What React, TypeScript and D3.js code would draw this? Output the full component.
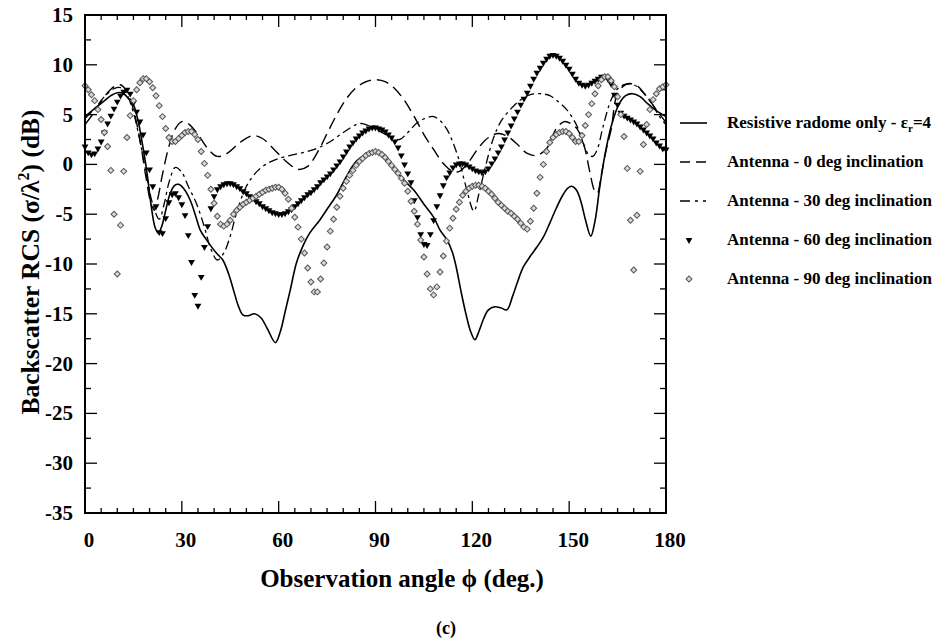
import React from 'react';
import * as d3 from 'd3';

// ---------- data ----------
const X_TICK_LABELS = [0, 30, 60, 90, 120, 150, 180];
const Y_TICK_LABELS = [15, 10, 5, 0, -5, -10, -15, -20, -25, -30, -35];

// Resistive radome only (solid line) : [angle, dB]
const RADOME_ANGLES = [0, 2.6, 5.7, 8, 10, 12, 13.5, 15, 16.5, 17.6, 19.1, 20.7, 21.7, 22.7, 23.8, 24.8, 26.4, 27.8, 29, 30.5, 32.6, 34.5, 35.7, 37.7, 40.7, 42.7, 44.5, 46, 47.5, 48.9, 50.5, 52.5, 54.5, 56.5, 59, 60.5, 62, 63.6, 65.5, 67.5, 69.6, 72.7, 75, 77.9, 81, 84, 87, 90, 92.6, 95, 98, 101.9, 105, 108, 110, 112.2, 113.8, 115, 116.4, 118, 119.5, 120.8, 122, 123.5, 125, 127, 128.8, 130.7, 132.5, 134, 135.8, 138, 140, 142, 144, 146, 148, 149.5, 150.8, 152.3, 153.7, 155, 156.7, 158, 159.5, 161, 163, 165.5, 167.5, 169.6, 172, 174.3, 177, 180];
const RADOME_VALUES = [4.8, 5.5, 6.3, 6.9, 7.2, 7.1, 6.6, 6.0, 4.3, 2.4, -0.6, -4.6, -6.3, -6.9, -6.2, -4.9, -2.9, -2.1, -2.0, -2.4, -3.6, -5.4, -6.6, -7.6, -8.9, -9.6, -11.0, -12.6, -14.2, -15.1, -15.2, -15.0, -15.4, -16.5, -17.9, -16.8, -14.8, -12.6, -9.9, -8.2, -6.9, -5.6, -4.5, -3.1, -1.2, 0.3, 1.0, 1.3, 0.8, 0.0, -1.3, -2.6, -4.0, -5.3, -6.6, -7.6, -8.8, -10.3, -12.6, -15.0, -16.8, -17.6, -16.8, -15.5, -14.6, -14.3, -14.4, -14.6, -13.2, -11.8, -10.3, -9.2, -8.3, -7.3, -5.9, -4.4, -3.1, -2.4, -2.2, -2.6, -3.8, -5.5, -7.2, -5.7, -2.2, 0.8, 3.8, 6.1, 6.9, 7.1, 6.8, 6.1, 5.4, 4.8];

// Antenna - 0 deg inclination (long dashes)
const ANT0_ANGLES = [0, 3, 6, 9, 11, 13, 15, 17, 19, 20.5, 21.5, 22.5, 24, 26, 28, 30, 32, 35, 38, 41, 44, 48, 52, 55, 58, 62, 66, 69, 72, 75, 78, 81, 84, 87, 90, 93, 96, 99, 102, 105, 108, 111, 114, 116, 119, 122, 125, 128, 131, 134, 137, 140, 143, 146, 148.5, 150.5, 152.6, 154.7, 156.3, 157.8, 158.7, 160, 161.5, 163, 165, 168, 171, 173.3, 177, 180];
const ANT0_VALUES = [4.0, 5.3, 6.8, 7.8, 8.0, 7.3, 5.5, 2.5, -1.5, -4.0, -4.6, -3.5, -1.0, 1.8, 3.6, 4.3, 4.1, 3.0, 1.6, 0.8, 1.1, 2.2, 2.9, 2.6, 1.7, 0.4, -0.5, -0.2, 1.2, 3.1, 5.0, 6.6, 7.7, 8.3, 8.5, 8.3, 7.6, 6.4, 4.8, 3.0, 1.5, 0.1, -0.7, -0.7, 0.3, 1.7, 2.7, 3.1, 2.8, 2.0, 1.1, 0.9, 1.6, 3.6, 4.3, 4.1, 3.5, 1.8, -0.6, -2.6, -2.9, -1.0, 1.5, 3.5, 7.1, 8.1, 7.9, 7.1, 5.5, 4.2];

// Antenna - 30 deg inclination (dash-dot-dot)
const ANT30_ANGLES = [0, 3, 6, 9, 11, 13, 15, 17, 19, 21, 23, 24.5, 26.2, 28, 30, 32, 34.5, 37, 39, 41, 43, 45, 47, 50, 53, 56, 60, 65, 70, 75, 80, 84, 86, 89, 92, 95, 97.5, 100, 103, 106, 108, 110, 112, 114, 116, 118, 120.5, 122, 124, 126.5, 129, 132, 135, 138, 141, 144, 147, 149.5, 152.5, 154.5, 156, 157.3, 158.7, 160.5, 163, 165, 167, 170, 173, 175.5, 178, 180];
const ANT30_VALUES = [4.6, 5.6, 6.8, 7.6, 7.7, 7.0, 5.2, 2.4, -1.0, -4.0, -5.5, -4.0, -1.6, -0.3, -0.8, -2.2, -3.9, -6.3, -8.5, -9.6, -8.9, -7.2, -4.8, -2.2, -0.8, 0.0, 0.6, 1.0, 1.4, 2.1, 3.2, 4.0, 4.1, 3.7, 3.2, 2.7, 2.5, 3.2, 4.2, 4.7, 4.8, 4.4, 3.6, 2.2, 0.3, -2.2, -4.7, -3.0, -0.3, 2.6, 4.4, 5.6, 6.5, 7.0, 7.1, 6.9, 6.2, 5.4, 3.8, 2.0, 1.0, 0.8, 1.5, 3.8, 6.5, 7.6, 8.0, 8.0, 7.2, 6.2, 4.8, 4.0];

// Antenna - 60 deg and 90 deg inclination: one sample per degree, 0..180
const SAMPLE_ANGLES = d3.range(0, 181, 1);
const ANT60_VALUES = [
  1.8, 1.2, 1.0, 1.1, 1.6, 2.3, 3.2, 4.1, 4.9, 5.6,
  6.3, 6.9, 7.3, 7.5, 7.1, 6.2, 5.3, 4.3, 3.0, 1.2,
  -0.5, -2.2, -4.2, -6.8, -6.9, -5.4, -3.8, -3.0, -2.9, -3.3,
  -4.0, -5.1, -7.1, -9.8, -13.1, -14.2, -11.3, -8.3, -6.2, -4.4,
  -3.2, -2.5, -2.2, -2.0, -1.9, -1.9, -2.0, -2.2, -2.4, -2.7,
  -2.9, -3.2, -3.4, -3.7, -3.9, -4.2, -4.4, -4.6, -4.8, -4.9,
  -5.0, -5.0, -4.9, -4.7, -4.5, -4.2, -3.9, -3.6, -3.3, -3.0,
  -2.8, -2.5, -2.2, -1.8, -1.5, -1.2, -0.9, -0.5, -0.1, 0.3,
  0.8, 1.3, 1.8, 2.2, 2.6, 2.9, 3.2, 3.4, 3.6, 3.7,
  3.7, 3.6, 3.5, 3.3, 3.0, 2.7, 2.3, 1.7, 0.9, 0.0,
  -0.9, -1.8, -3.6, -5.3, -7.0, -8.0, -8.1, -7.0, -5.6, -4.2,
  -3.1, -2.1, -1.3, -0.8, -0.3, 0.0, 0.1, 0.1, 0.0, -0.2,
  -0.4, -0.6, -0.7, -0.8, -0.7, -0.4, 0.1, 0.6, 1.2, 1.8,
  2.5, 3.2, 3.9, 4.6, 5.3, 6.0, 6.6, 7.2, 7.9, 8.6,
  9.2, 9.7, 10.2, 10.6, 10.9, 11.0, 10.9, 10.7, 10.4, 10.0,
  9.6, 9.1, 8.6, 8.2, 8.0, 7.9, 8.0, 8.2, 8.4, 8.6,
  8.8, 8.8, 8.6, 8.1, 7.0, 6.0, 5.2, 4.9, 4.7, 4.5,
  4.3, 4.1, 3.8, 3.5, 3.2, 2.9, 2.6, 2.2, 1.9, 1.6, 1.5,
];
const ANT90_VALUES = [
  7.9, 7.5, 7.0, 6.4, 5.5, 4.5, 3.2, 1.8, -0.6, -5.0,
  -11.0, -6.1, -0.7, 2.7, 4.9, 6.4, 7.5, 8.2, 8.6, 8.6,
  8.3, 7.7, 6.9, 5.9, 4.8, 3.6, 2.7, 2.3, 2.3, 2.6,
  2.9, 3.2, 3.3, 3.3, 3.0, 2.5, 1.3, 0.1, -1.1, -2.5,
  -3.9, -5.2, -6.0, -6.2, -6.0, -5.6, -5.0, -4.6, -4.3, -4.0,
  -3.8, -3.6, -3.4, -3.2, -3.0, -2.8, -2.6, -2.5, -2.4, -2.3,
  -2.3, -2.5, -2.9, -3.5, -4.4, -5.3, -6.3, -7.5, -8.9, -10.4,
  -11.8, -12.8, -12.8, -11.5, -9.9, -8.3, -6.7, -5.5, -4.3, -3.2,
  -2.4, -1.7, -1.1, -0.6, -0.1, 0.3, 0.6, 0.9, 1.1, 1.2,
  1.3, 1.2, 1.0, 0.7, 0.3, -0.1, -0.5, -0.9, -1.4, -1.9,
  -2.7, -3.7, -4.7, -6.0, -7.6, -9.3, -11.0, -12.5, -13.1, -12.3,
  -10.8, -9.2, -7.7, -6.4, -5.4, -4.5, -3.8, -3.1, -2.7, -2.4,
  -2.2, -2.1, -2.1, -2.2, -2.4, -2.7, -3.0, -3.4, -3.8, -4.1,
  -4.4, -4.7, -4.9, -5.2, -5.5, -5.9, -6.3, -6.5, -5.7, -4.4,
  -2.9, -1.3, 0.0, 1.3, 2.2, 2.7, 3.0, 3.2, 3.3, 3.3,
  3.1, 2.7, 2.3, 2.3, 2.9, 3.9, 5.0, 6.1, 7.1, 7.9,
  8.5, 8.8, 8.8, 8.4, 7.8, 6.8, 5.0, 2.8, -0.4, -5.6,
  -10.6, -5.1, -0.7, 2.0, 4.0, 5.5, 6.5, 7.1, 7.6, 7.8, 8.0,
];

const LEGEND_LABELS = [
  'Resistive radome only - ',
  'Antenna - 0 deg inclination',
  'Antenna - 30 deg inclination',
  'Antenna - 60 deg inclination',
  'Antenna - 90 deg inclination',
];

// ---------- chart ----------
const FONT = "'Liberation Serif', 'Times New Roman', Times, serif";

export default function App() {
  const W = 939;
  const H = 641;
  const x = d3.scaleLinear().domain([0, 180]).range([85, 666]);
  const y = d3.scaleLinear().domain([-35, 15]).range([513, 15]);

  const line = d3
    .line<[number, number]>()
    .x((d) => x(d[0]))
    .y((d) => y(d[1]))
    .curve(d3.curveCatmullRom.alpha(0.5));

  const zip = (a: number[], b: number[]) => a.map((v, i) => [v, b[i]] as [number, number]);

  const radomePath = line(zip(RADOME_ANGLES, RADOME_VALUES)) || '';
  const ant0Path = line(zip(ANT0_ANGLES, ANT0_VALUES)) || '';
  const ant30Path = line(zip(ANT30_ANGLES, ANT30_VALUES)) || '';

  const tri = d3.symbol().type(d3.symbolTriangle).size(20)() || '';
  const dia = d3.symbol().type(d3.symbolSquare).size(18)() || '';

  const xMinor = d3.range(0, 181, 5);
  const yMinor = d3.range(-35, 15.01, 2.5);

  const [x0, x1] = x.range();
  const [y0, y1] = [y(15), y(-35)];

  const legX0 = 680;
  const legX1 = 707;
  const legText = 727;
  const legY = [123, 162, 201, 240, 279];

  const txt = { fontFamily: FONT, fontWeight: 'bold' as const };

  return (
    <svg
      width={W}
      height={H}
      viewBox={`0 0 ${W} ${H}`}
      style={{ position: 'absolute', left: 0, top: 0, background: '#fff', fontFamily: FONT, fontWeight: 'bold' }}
    >
      <rect x={0} y={0} width={W} height={H} fill="#fff" />

      {/* ticks */}
      {xMinor.map((v) => {
        const major = v % 30 === 0;
        const len = major ? 12 : 5;
        return (
          <g key={'xt' + v} stroke="#000" strokeWidth={1.3}>
            <line x1={x(v)} x2={x(v)} y1={y1} y2={y1 - len} />
            <line x1={x(v)} x2={x(v)} y1={y0} y2={y0 + len} />
          </g>
        );
      })}
      {yMinor.map((v) => {
        const major = Math.abs(v % 5) < 1e-6;
        const len = major ? 12 : 6;
        return (
          <g key={'yt' + v} stroke="#000" strokeWidth={1.3}>
            <line x1={x0} x2={x0 + len} y1={y(v)} y2={y(v)} />
            <line x1={x1} x2={x1 - len} y1={y(v)} y2={y(v)} />
          </g>
        );
      })}

      {/* curves */}
      <path d={radomePath} fill="none" stroke="#000" strokeWidth={1.6} />
      <path d={ant0Path} fill="none" stroke="#000" strokeWidth={1.4} strokeDasharray="12,6" />
      <path d={ant30Path} fill="none" stroke="#000" strokeWidth={1.3} strokeDasharray="9,4,3,4" />

      {SAMPLE_ANGLES.map((a, i) => (
        <path
          key={'t' + a}
          d={tri}
          transform={`translate(${x(a)},${y(ANT60_VALUES[i])}) rotate(180)`}
          fill="#000"
        />
      ))}
      {SAMPLE_ANGLES.map((a, i) => (
        <path
          key={'d' + a}
          d={dia}
          transform={`translate(${x(a)},${y(ANT90_VALUES[i])}) rotate(45)`}
          fill="#d8d8d8"
          stroke="#555"
          strokeWidth={1}
        />
      ))}

      {/* frame */}
      <rect x={x0} y={y0} width={x1 - x0} height={y1 - y0} fill="none" stroke="#000" strokeWidth={2} />

      {/* tick labels */}
      {X_TICK_LABELS.map((v) => (
        <text key={'xl' + v} style={txt} x={x(v) + 4} y={547} fontSize={21} textAnchor="middle">
          {v}
        </text>
      ))}
      {Y_TICK_LABELS.map((v) => (
        <text key={'yl' + v} style={txt} x={73} y={y(v) + 7} fontSize={21} textAnchor="end">
          {v}
        </text>
      ))}

      {/* axis titles */}
      <text style={txt} x={402} y={587} fontSize={25} textAnchor="middle">
        Observation angle ϕ (deg.)
      </text>
      <text style={txt} transform={`translate(39,262) rotate(-90)`} fontSize={25.5} textAnchor="middle">
        Backscatter RCS (σ/λ<tspan dy={-10} fontSize={16}>2</tspan>
        <tspan dy={10}>) (dB)</tspan>
      </text>
      <text style={txt} x={446} y={634} fontSize={18} textAnchor="middle">
        (c)
      </text>

      {/* legend */}
      <line x1={legX0} x2={legX1} y1={legY[0]} y2={legY[0]} stroke="#000" strokeWidth={1.6} />
      <line x1={legX0} x2={legX1} y1={legY[1]} y2={legY[1]} stroke="#000" strokeWidth={1.4} strokeDasharray="10,6" />
      <line x1={legX0} x2={legX1} y1={legY[2]} y2={legY[2]} stroke="#000" strokeWidth={1.3} strokeDasharray="10,5,3,5,3,5" />
      <path d={tri} transform={`translate(${689},${legY[3]}) rotate(180)`} fill="#000" />
      <path d={dia} transform={`translate(${689},${legY[4]}) rotate(45)`} fill="#d8d8d8" stroke="#555" strokeWidth={1} />
      {LEGEND_LABELS.map((t, i) => (
        <text key={'lg' + i} style={txt} x={legText} y={legY[i] + 5} fontSize={17}>
          {t}
          {i === 0 && (
            <>
              <tspan>ε</tspan>
              <tspan dy={4} fontSize={11}>r</tspan>
              <tspan dy={-4}>=4</tspan>
            </>
          )}
        </text>
      ))}
    </svg>
  );
}
